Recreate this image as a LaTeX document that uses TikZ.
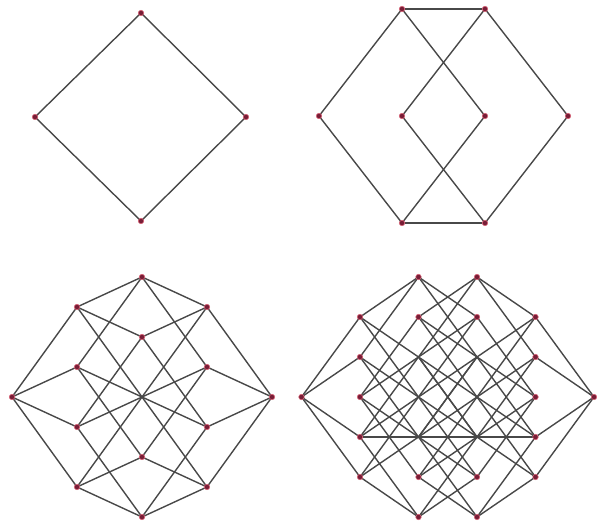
\documentclass[tikz,border=0pt]{standalone}
\definecolor{edgec}{RGB}{72,72,72}
\definecolor{dotc}{RGB}{120,30,55}
\definecolor{dotr}{RGB}{215,100,120}
\tikzset{
  edge/.style={draw=edgec, line width=1.4pt},
  vdot/.style={circle, fill=dotc, draw=dotr, line width=0.6pt, inner sep=0pt, minimum size=5.5pt},
}
\begin{document}
\begin{tikzpicture}[x=1pt,y=-1pt]
\useasboundingbox (0,0) rectangle (597,524);
% ---------- Q2 ----------
\coordinate (q2-0) at (141,221);
\coordinate (q2-1) at (35,117);
\coordinate (q2-2) at (246,117);
\coordinate (q2-3) at (141,13);
\draw[edge] (q2-0) -- (q2-1);
\draw[edge] (q2-1) -- (q2-3);
\draw[edge] (q2-3) -- (q2-2);
\draw[edge] (q2-2) -- (q2-0);
\foreach \n in {0,...,3} \node[vdot] (d2-\n) at (q2-\n) {};
% ---------- Q3 ----------
\coordinate (q3-0) at (402,223);
\coordinate (q3-1) at (319,116);
\coordinate (q3-2) at (485,116);
\coordinate (q3-3) at (402,9);
\coordinate (q3-4) at (485,223);
\coordinate (q3-5) at (402,116);
\coordinate (q3-6) at (568,116);
\coordinate (q3-7) at (485,9);
\foreach \u/\v in {0/1,0/2,0/4,1/3,2/3,4/5,4/6,5/7,6/7,3/7}
  \draw[edge] (q3-\u) -- (q3-\v);
\foreach \n in {0,...,7} \node[vdot] (d3-\n) at (q3-\n) {};
% ---------- Q4 ----------
\foreach \n in {0,...,15} {
  \pgfmathtruncatemacro\ba{mod(\n,2)}
  \pgfmathtruncatemacro\bb{mod(floor(\n/2),2)}
  \pgfmathtruncatemacro\bc{mod(floor(\n/4),2)}
  \pgfmathtruncatemacro\bd{mod(floor(\n/8),2)}
  \coordinate (q4-\n) at ({142+65*(-\ba+\bb-\bc+\bd)}, {517-30*(\ba+\bb)-90*(\bc+\bd)});
}
\foreach \n in {0,...,15} {
  \foreach \p in {1,2,4,8} {
    \pgfmathtruncatemacro\bit{mod(floor(\n/\p),2)}
    \ifnum\bit=0
      \pgfmathtruncatemacro\m{\n+\p}
      \draw[edge] (q4-\n) -- (q4-\m);
    \fi
  }
}
\foreach \n in {0,1,2,3,4,5,7,8,10,11,12,13,14,15} \node[vdot] (d4-\n) at (q4-\n) {};
% ---------- Q5 ----------
\foreach \n in {0,...,31} {
  \pgfmathtruncatemacro\ba{mod(\n,2)}
  \pgfmathtruncatemacro\bb{mod(floor(\n/2),2)}
  \pgfmathtruncatemacro\bc{mod(floor(\n/4),2)}
  \pgfmathtruncatemacro\bd{mod(floor(\n/8),2)}
  \pgfmathtruncatemacro\be{mod(floor(\n/16),2)}
  \coordinate (q5-\n) at ({418.5+58.5*(-\ba+\bb-\bc+\bd+\be)}, {517-40*(\ba+\bb)-80*(\bc+\bd)});
}
\foreach \n in {0,...,31} {
  \foreach \p in {1,2,4,8} {
    \pgfmathtruncatemacro\bit{mod(floor(\n/\p),2)}
    \ifnum\bit=0
      \pgfmathtruncatemacro\m{\n+\p}
      \draw[edge] (q5-\n) -- (q5-\m);
    \fi
  }
}
\foreach \n in {3,4,8} {
  \pgfmathtruncatemacro\m{\n+16}
  \draw[edge] (q5-\n) -- (q5-\m);
}
\foreach \n in {0,1,2,4,5,7,10,13,14,15,16,17,18,21,24,26,27,29,30,31} \node[vdot] (d5-\n) at (q5-\n) {};
\end{tikzpicture}
\end{document}
